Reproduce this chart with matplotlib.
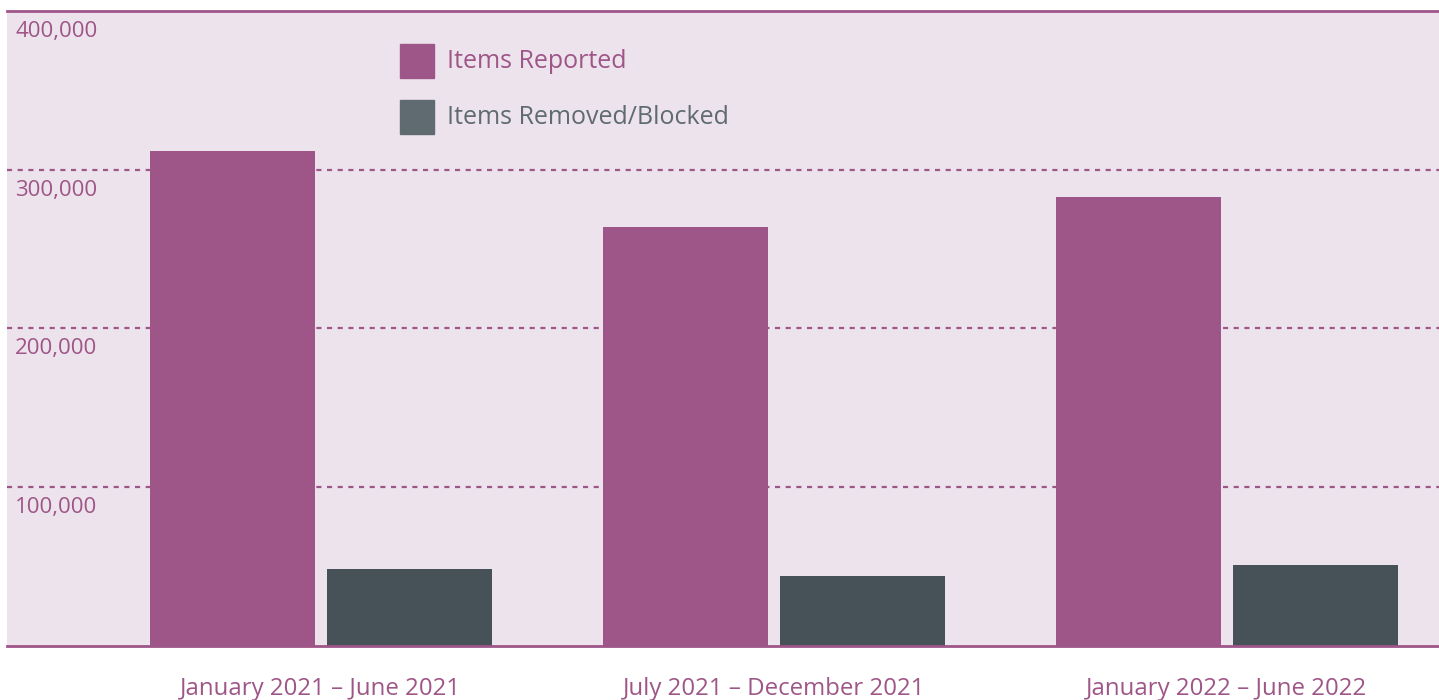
import matplotlib
matplotlib.use("Agg")
import matplotlib.pyplot as plt
import numpy as np
from matplotlib.patches import Rectangle

plt.rcParams['font.family'] = ['Open Sans', 'DejaVu Sans']

periods = ["January 2021 – June 2021", "July 2021 – December 2021", "January 2022 – June 2022"]
items_reported = [312000, 264000, 283000]
items_removed = [48500, 44000, 51000]
yticks = [100000, 200000, 300000, 400000]
series_labels = ["Items Reported", "Items Removed/Blocked"]

PURPLE = "#9e5587"
DARK = "#475258"
LEG_GRAY = "#5f6b70"
BG = "#ede3ec"

W, H = 1439, 700
fig = plt.figure(figsize=(W/100, H/100), dpi=100)
fig.patch.set_facecolor("white")
ax = fig.add_axes([7/W, 1-646/H, 1-7/W, (646-11)/H])
ax.set_facecolor(BG)

x = np.arange(len(periods))
bw = 165/453
off = 88.5/453
ax.bar(x - off, items_reported, width=bw, color=PURPLE, zorder=3)
ax.bar(x + off, items_removed, width=bw, color=DARK, zorder=3)

ax.set_xlim(-(320.5-7)/453, 2 + (1439-1227)/453)
ax.set_ylim(0, 400000)

for v in yticks:
    if v < 400000:
        ax.axhline(v, color=PURPLE, lw=1.6, linestyle=(0, (2.3, 2.5)), zorder=1)
    ax.annotate(f"{v:,}", xy=(0, v), xycoords=('axes fraction', 'data'),
                xytext=(8, -10), textcoords='offset pixels', ha='left', va='top',
                fontsize=16, color=PURPLE)

for s in ax.spines.values():
    s.set_visible(False)
ax.axhline(400000, color=PURPLE, lw=2, zorder=4, clip_on=False)
ax.axhline(0, color=PURPLE, lw=2, zorder=4, clip_on=False)

ax.set_xticks(x)
ax.set_xticklabels(periods, fontsize=17.3, color=PURPLE)
ax.tick_params(axis='x', length=0, pad=22)
ax.set_yticks([])

# legend
cols = [PURPLE, LEG_GRAY]
for i, (lab, c) in enumerate(zip(series_labels, cols)):
    y0 = 44 + i*56
    fig.patches.append(Rectangle((400/W, 1-(y0+34)/H), 34/W, 34/H, transform=fig.transFigure,
                                 color=c, figure=fig))
    fig.text(447/W, 1-(y0+18)/H, lab, fontsize=18, color=c, ha='left', va='center')

fig.savefig("out.png", dpi=100)
